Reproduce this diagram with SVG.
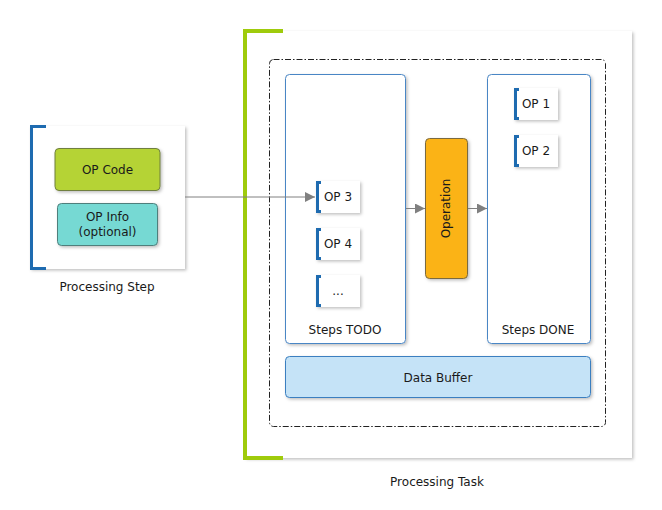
<svg xmlns="http://www.w3.org/2000/svg" width="662" height="510" viewBox="0 0 662 510">
<defs>
<filter id="sh" x="-10%" y="-10%" width="130%" height="130%">
<feDropShadow dx="1.5" dy="1.5" stdDeviation="1.5" flood-color="#000" flood-opacity="0.25"/>
</filter>
<marker id="arr" viewBox="0 0 10 10" refX="10" refY="5" markerWidth="10" markerHeight="10" markerUnits="userSpaceOnUse" orient="auto">
<path d="M0,0 L10,5 L0,10 z" fill="#808080"/>
</marker>
</defs>
<style>
text{font-family:"DejaVu Sans",Verdana,sans-serif;font-size:12px;fill:#1a1a1a;text-anchor:middle}
.panel{fill:#fff;filter:url(#sh)}
.blue{fill:none;stroke:#1e6bb0;stroke-width:3}
.card{fill:#fff;filter:url(#sh)}
.cont{fill:#fff;stroke:#4a86c5;stroke-width:1;filter:url(#sh)}
.conn{stroke:#808080;stroke-width:1;fill:none;marker-end:url(#arr)}
</style>
<rect width="662" height="510" fill="#fff"/>

<g id="processing-step">
<rect class="panel" x="30" y="126" width="155" height="143"/>
<path class="blue" d="M46,126.5 H31.5 V268.5 H46"/>
<g id="op-code">
<rect x="55" y="148.5" width="105" height="42" rx="4" fill="#b5d334" stroke="#6f7f3f" stroke-width="1" filter="url(#sh)"/>
<text x="107.5" y="174">OP Code</text>
</g>
<g id="op-info">
<rect x="57.5" y="203.5" width="100" height="42" rx="4" fill="#76d9d3" stroke="#4f7f7c" stroke-width="1" filter="url(#sh)"/>
<text x="107.5" y="221">OP Info</text>
<text x="107.5" y="236">(optional)</text>
</g>
<text x="107" y="291">Processing Step</text>
</g>

<g id="processing-task">
<rect class="panel" x="245" y="31" width="387" height="427"/>
<path d="M283,31 H245 V458 H283" fill="none" stroke="#9fcb0c" stroke-width="4"/>
<rect x="269.5" y="59.5" width="336" height="367" rx="4" fill="none" stroke="#222" stroke-width="1" stroke-dasharray="6,2,1.5,2"/>
<text x="437" y="486">Processing Task</text>
</g>

<g id="steps-todo">
<rect class="cont" x="285.5" y="74.5" width="120" height="269" rx="4"/>
<text x="345" y="334">Steps TODO</text>
</g>

<g id="steps-done">
<rect class="cont" x="487.5" y="74.5" width="103" height="269" rx="4"/>
<text x="538" y="334">Steps DONE</text>
</g>

<g id="op3">
<rect class="card" x="316" y="181" width="44" height="32"/>
<path class="blue" d="M321,182.5 H317.5 V211.5 H321"/>
<text x="338" y="201">OP 3</text>
</g>
<g id="op4">
<rect class="card" x="316" y="228" width="44" height="32"/>
<path class="blue" d="M321,229.5 H317.5 V258.5 H321"/>
<text x="338" y="248">OP 4</text>
</g>
<g id="op-more">
<rect class="card" x="316" y="275" width="44" height="32"/>
<path class="blue" d="M321,276.5 H317.5 V305.5 H321"/>
<text x="338" y="295">...</text>
</g>

<g id="op1">
<rect class="card" x="514" y="88" width="44" height="32"/>
<path class="blue" d="M519,89.5 H515.5 V118.5 H519"/>
<text x="536" y="108">OP 1</text>
</g>
<g id="op2">
<rect class="card" x="514" y="135" width="44" height="32"/>
<path class="blue" d="M519,136.5 H515.5 V165.5 H519"/>
<text x="536" y="155">OP 2</text>
</g>

<g id="operation">
<rect x="425.5" y="138.5" width="42" height="140" rx="4" fill="#fbb314" stroke="#7a6a40" stroke-width="1" filter="url(#sh)"/>
<text x="446" y="208.5" transform="rotate(-90 446 208.5)" dy="4">Operation</text>
</g>

<g id="data-buffer">
<rect x="285.5" y="356.5" width="305" height="41" rx="4" fill="#c5e3f7" stroke="#3a7fc0" stroke-width="1" filter="url(#sh)"/>
<text x="438" y="382">Data Buffer</text>
</g>

<g id="connectors">
<path class="conn" d="M185,197 H315"/>
<path class="conn" d="M406,208.5 H425"/>
<path class="conn" d="M468,208.5 H487"/>
</g>
</svg>
